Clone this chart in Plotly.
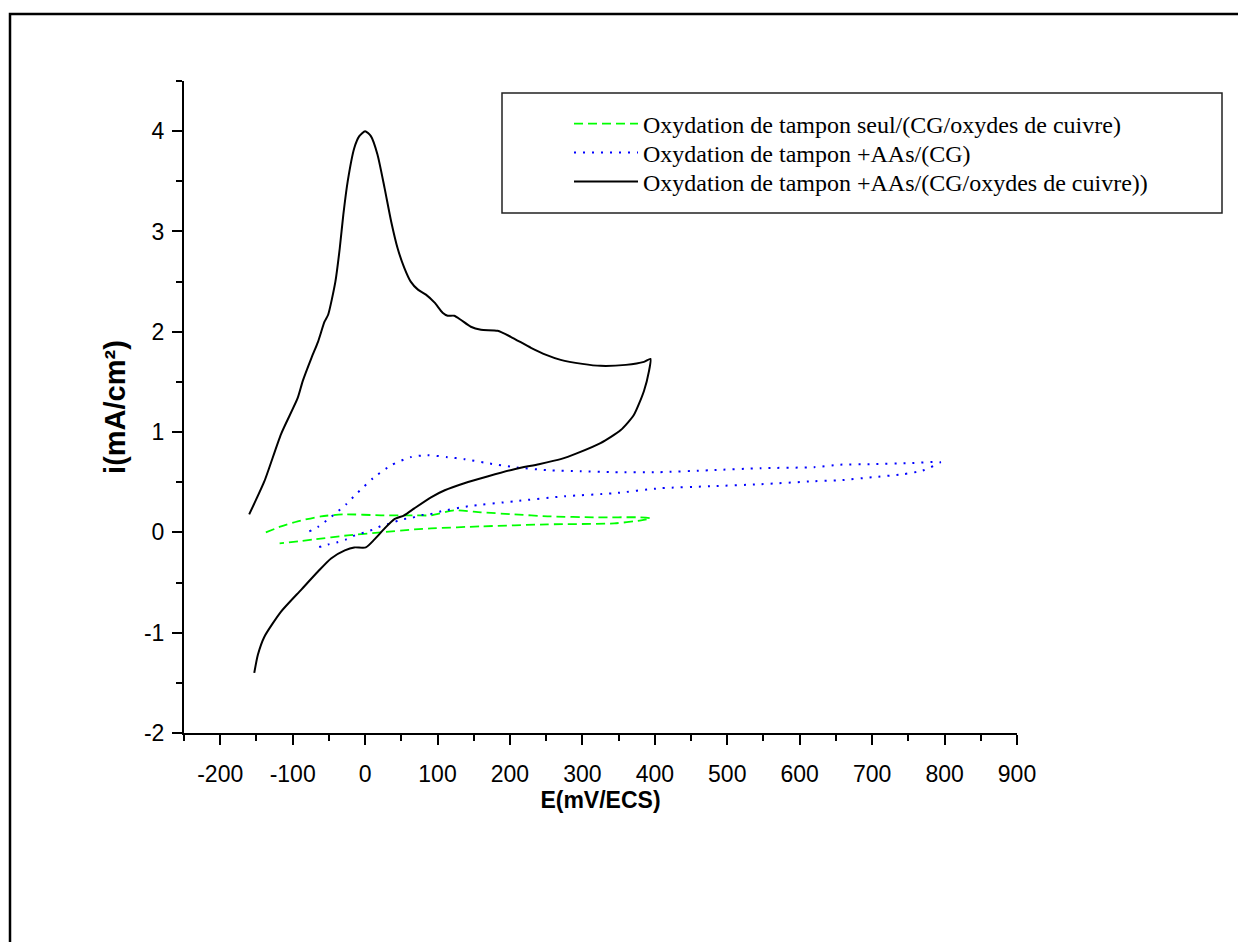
import plotly.graph_objects as go

# ---- data ----
green_x = [-137, -116, -93, -61, -28, 22, 68, 91, 123, 160, 206, 252, 321, 380, 394,
           381, 344, 252, 160, 91, 68, 22, -24, -70, -118]
green_y = [0.00, 0.06, 0.11, 0.16, 0.18, 0.17, 0.17, 0.17, 0.22, 0.20, 0.18, 0.16, 0.15, 0.15, 0.14,
           0.12, 0.09, 0.08, 0.06, 0.04, 0.03, 0.00, -0.03, -0.07, -0.11]

blue_x = [-77, -64, -51, -39, -26, -14, -1, 11, 36, 63, 86, 114, 137, 169, 206, 252, 298, 343, 404,
          477, 546, 620, 656, 700, 750, 794,
          781, 769, 743, 700, 656, 620, 546, 477, 408, 343, 275, 206, 142, 105, 89, 75, 63, 50,
          36, 24, 12, -1, -14, -26, -39, -51, -65]
blue_y = [0.01, 0.06, 0.13, 0.20, 0.28, 0.37, 0.46, 0.54, 0.67, 0.75, 0.77, 0.75, 0.73, 0.69, 0.65,
          0.62, 0.61, 0.60, 0.60, 0.62, 0.64, 0.65, 0.675, 0.68, 0.69, 0.70,
          0.65, 0.615, 0.58, 0.55, 0.52, 0.51, 0.48, 0.46, 0.44, 0.39, 0.36, 0.31, 0.26, 0.21, 0.18,
          0.17, 0.14, 0.13, 0.09, 0.07, 0.03, 0.00, -0.03, -0.07, -0.10, -0.12, -0.15]

black_x = [-153, -148, -139, -116, -88, -65, -47, -28, -15, 1, 13, 27, 40, 54, 68, 91, 110, 137,
           170, 206, 240, 270, 293, 325, 353, 371, 385, 392, 394,
           385, 360, 325, 300, 270, 250, 229, 201, 183, 160, 146, 132, 123, 114, 107, 96, 84, 73,
           63, 54, 45, 36, 27, 17, 8, 0, -8, -15, -24, -30, -35, -41, -51, -56, -65, -74, -86,
           -93, -116, -139, -160]
black_y = [-1.40, -1.22, -1.04, -0.79, -0.57, -0.39, -0.26, -0.18, -0.15, -0.15, -0.07, 0.04, 0.13,
           0.17, 0.24, 0.35, 0.42, 0.49, 0.56, 0.63, 0.68, 0.73, 0.79, 0.89, 1.02, 1.17, 1.41, 1.61,
           1.73,
           1.70, 1.67, 1.66, 1.68, 1.72, 1.77, 1.84, 1.95, 2.01, 2.02, 2.05, 2.12, 2.16, 2.16, 2.19,
           2.29, 2.37, 2.42, 2.50, 2.64, 2.83, 3.10, 3.43, 3.77, 3.95, 4.00, 3.95, 3.83, 3.50,
           3.17, 2.83, 2.50, 2.17, 2.10, 1.90, 1.74, 1.51, 1.34, 0.98, 0.51, 0.18]

names = ["Oxydation de tampon seul/(CG/oxydes de cuivre)",
         "Oxydation de tampon +AAs/(CG)",
         "Oxydation de tampon +AAs/(CG/oxydes de cuivre))"]

x_ticks = list(range(-200, 1000, 100))
y_ticks = [-2, -1, 0, 1, 2, 3, 4]

fig = go.Figure()
fig.add_trace(go.Scatter(x=green_x, y=green_y, mode="lines", name=names[0], legend="legend",
                         line=dict(color="#00FF00", width=1.8, dash="9px,5px", shape="spline", smoothing=0.6)))
fig.add_trace(go.Scatter(x=blue_x, y=blue_y, mode="lines", name=names[1], legend="legend2",
                         line=dict(color="#0000FF", width=2, dash="2px,7px", shape="spline", smoothing=0.6)))
fig.add_trace(go.Scatter(x=black_x, y=black_y, mode="lines", name=names[2], legend="legend3",
                         line=dict(color="#000000", width=2, shape="spline", smoothing=0.6)))

sans = "Liberation Sans, Arial"
tick_font = dict(family=sans, size=23, color="black")
xtitle_font = dict(family=sans, size=23, color="black")
ytitle_font = dict(family=sans, size=29, color="black")


def px_x(p):
    return (p - 184) / 833


def px_y(p):
    return (733 - p) / 652


def legend_row(ypix):
    return dict(x=px_x(569), y=px_y(ypix), xanchor="left", yanchor="middle",
                borderwidth=0, bgcolor="rgba(0,0,0,0)",
                font=dict(family="Liberation Serif, Times New Roman", size=24, color="black"),
                itemwidth=64)


fig.update_layout(
    width=1238, height=942,
    margin=dict(l=184, r=221, t=81, b=209),
    paper_bgcolor="white", plot_bgcolor="white",
    showlegend=True,
    legend=legend_row(124),
    legend2=legend_row(153),
    legend3=legend_row(182),
    xaxis=dict(range=[-250, 900], tickvals=x_ticks, ticktext=[str(v) for v in x_ticks],
               showgrid=False, zeroline=False, showline=True, linecolor="black", linewidth=2,
               ticks="outside", ticklen=10, tickwidth=1.5, tickcolor="black",
               minor=dict(ticks="outside", ticklen=6, tickwidth=1.5, tickcolor="black", dtick=50, tick0=0),
               tickfont=tick_font, ticklabelstandoff=9,
               title=dict(text="<b>E(mV/ECS)</b>", font=xtitle_font, standoff=3)),
    yaxis=dict(range=[-2, 4.5], tickvals=y_ticks, ticktext=[str(v) for v in y_ticks],
               showgrid=False, zeroline=False, showline=True, linecolor="black", linewidth=2,
               ticks="outside", ticklen=10, tickwidth=1.5, tickcolor="black",
               minor=dict(ticks="outside", ticklen=6, tickwidth=1.5, tickcolor="black", dtick=0.5, tick0=0),
               tickfont=tick_font, ticklabelstandoff=3,
               title=dict(text="<b>i(mA/cm²)</b>", font=ytitle_font, standoff=10)),
    shapes=[
        dict(type="rect", xref="paper", yref="paper",
             x0=px_x(10), x1=px_x(1260), y0=px_y(980), y1=px_y(14),
             line=dict(color="black", width=2.5), fillcolor="rgba(0,0,0,0)", layer="below"),
        dict(type="rect", xref="paper", yref="paper",
             x0=px_x(502), x1=px_x(1222), y0=px_y(213), y1=px_y(93),
             line=dict(color="#222222", width=1.5), fillcolor="white", layer="below"),
    ],
)

fig.write_html("out.html")
